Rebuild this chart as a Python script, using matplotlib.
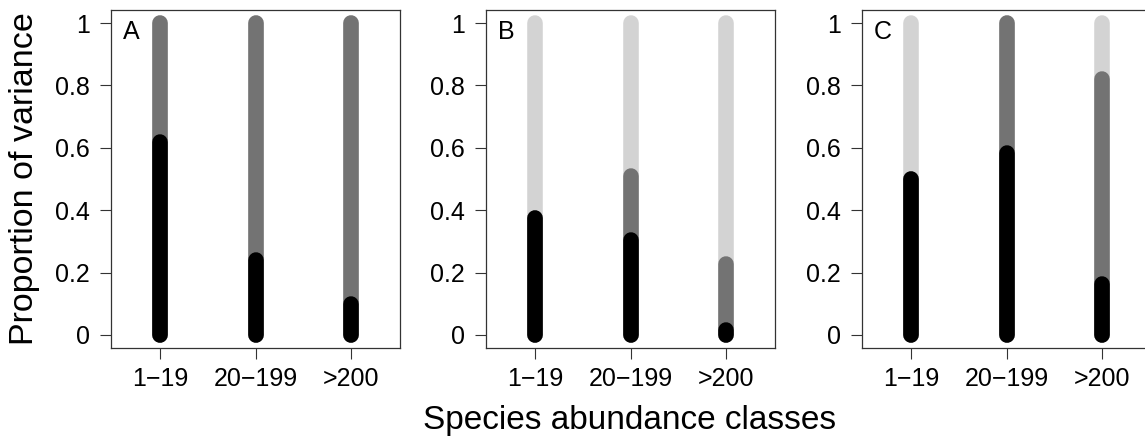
import numpy as np
import matplotlib
matplotlib.use("Agg")
import matplotlib.pyplot as plt

plt.rcParams['font.family'] = ['Liberation Sans', 'DejaVu Sans']

# abundance classes shared by all panels
classes = ["1\u221219", "20\u2212199", ">200"]
panels = ["A", "B", "C"]

# top of the black part (first variance component), per panel
black_top = {
    "A": [0.62, 0.24, 0.10],
    "B": [0.376, 0.304, 0.016],
    "C": [0.50, 0.584, 0.162],
}
# top of the dark grey part (cumulative first + second component)
dark_top = {
    "A": [1.0, 1.0, 1.0],
    "B": [0.376, 0.511, 0.226],
    "C": [0.50, 1.0, 0.822],
}
# light grey always runs to the total
total = [1.0, 1.0, 1.0]

col_black = "#000000"
col_dark = "#737373"
col_light = "#d3d3d3"

W, H = 1145, 443
fig = plt.figure(figsize=(W / 100, H / 100), dpi=100)

lefts = [111, 486, 862]
ax_w, ax_bot, ax_h = 289, 95, 338
lw = 11.2

axes = []
for i, p in enumerate(panels):
    ax = fig.add_axes([lefts[i] / W, ax_bot / H, ax_w / W, ax_h / H])
    xs = np.arange(1, len(classes) + 1)
    for x, t in zip(xs, total):
        ax.plot([x, x], [0, t], color=col_light, lw=lw, solid_capstyle="round")
    for x, t in zip(xs, dark_top[p]):
        ax.plot([x, x], [0, t], color=col_dark, lw=lw, solid_capstyle="round")
    for x, t in zip(xs, black_top[p]):
        ax.plot([x, x], [0, t], color=col_black, lw=lw, solid_capstyle="round")

    ax.set_xlim(0.48, 3.52)
    ax.set_ylim(-0.042, 1.042)
    ax.set_xticks(xs)
    ax.set_xticklabels(classes, fontsize=18)
    ax.set_yticks([0, 0.2, 0.4, 0.6, 0.8, 1])
    ax.set_yticklabels(["0", "0.2", "0.4", "0.6", "0.8", "1"], fontsize=18)
    ax.tick_params(axis="both", length=8, width=0.8, direction="out", color="#333333")
    ax.tick_params(axis="x", pad=6)
    ax.tick_params(axis="y", pad=7)
    for s in ax.spines.values():
        s.set_linewidth(0.9)
        s.set_color("#333333")
    ax.text(12 / ax_w, 1 - 10 / ax_h, p, transform=ax.transAxes, fontsize=18,
            ha="left", va="top")
    axes.append(ax)

axes[0].set_ylabel("Proportion of variance", fontsize=24.5, labelpad=11)
fig.text(629.5 / W, 1 - 420 / H, "Species abundance classes", fontsize=24,
         ha="center", va="center")

fig.savefig("out.png", dpi=100)
